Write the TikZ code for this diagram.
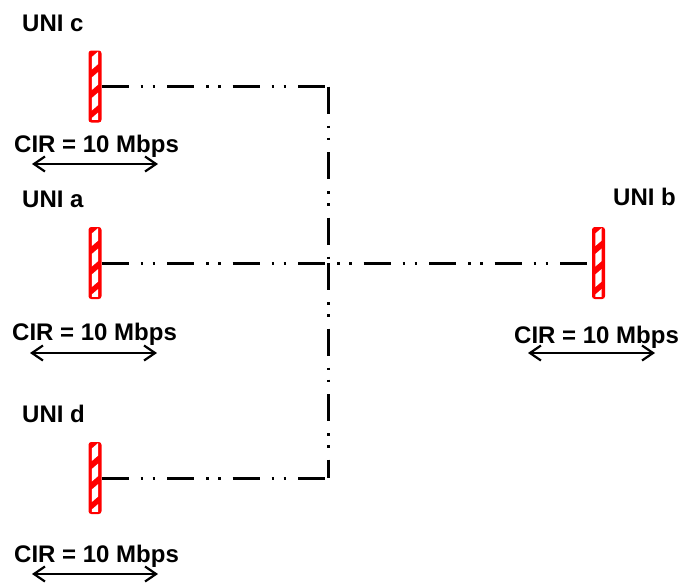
\documentclass[tikz,border=0pt]{standalone}
\usepackage{fontspec}
\setmainfont{Liberation Sans}
\usetikzlibrary{arrows.meta}
\newcommand\unihatch[1]{%
  \begin{scope}[shift={(#1.north)}]
    \clip (-4.5,1) rectangle (4.5,69);
    \foreach \o in {10,30.5,51,71}{
      \fill[white] (-3.2,\o-3.5) -- (3.2,\o-9) -- (3.2,\o+3.5) -- (-3.2,\o+9) -- cycle;
    }
  \end{scope}}
\begin{document}
\begin{tikzpicture}[x=1pt,y=-1pt,
  uni/.style={draw=red, line width=2pt, rounded corners=2pt, fill=red, minimum width=11pt, minimum height=70pt, inner sep=0pt},
  lbl/.style={font=\fontsize{24}{28}\selectfont\bfseries, inner sep=0pt, anchor=base west},
  link/.style={line width=3pt, dash pattern=on 27pt off 12pt on 2.5pt off 9.5pt on 2.5pt off 12pt},
  cir/.style={line width=2pt, {Straight Barb[length=11pt,width=15pt,line width=2.2pt]}-{Straight Barb[length=11pt,width=15pt,line width=2.2pt]}}]
\useasboundingbox (0,0) rectangle (681,582);

% UNI boxes
\node[uni] (c) at (95,86.5) {};
\node[uni] (a) at (95,263) {};
\node[uni] (b) at (598.5,263) {};
\node[uni] (d) at (95,478) {};

% junction points
\coordinate (cc) at (328,86.5);
\coordinate (j) at (328,263);
\coordinate (dc) at (328,478);

% links
\draw[link] (c.east) -- (cc);
\draw[link] (cc) -- (j);
\draw[link] (a.east) -- (b.west);
\draw[link] (d.east) -- (dc);
\draw[link] (j) -- (dc);

% hatch
\unihatch{c}
\unihatch{a}
\unihatch{b}
\unihatch{d}

% labels
\node[lbl] (ucl) at (22,31.5) {UNI c};
\node[lbl] (ual) at (22,207.5) {UNI a};
\node[lbl] (ubl) at (613,205) {UNI b};
\node[lbl] (udl) at (22,422) {UNI d};

\node[lbl] (circ) at (14,152) {CIR = 10 Mbps};
\node[lbl] (cira) at (12,340) {CIR = 10 Mbps};
\node[lbl] (cirb) at (514,343) {CIR = 10 Mbps};
\node[lbl] (cird) at (14,562) {CIR = 10 Mbps};

% CIR arrows
\coordinate (c1) at (32,164);  \coordinate (c2) at (158,164);
\coordinate (a1) at (30,353);  \coordinate (a2) at (157,353);
\coordinate (b1) at (528,353); \coordinate (b2) at (655,353);
\coordinate (d1) at (32,574);  \coordinate (d2) at (158,574);
\draw[cir] (c1) -- (c2);
\draw[cir] (a1) -- (a2);
\draw[cir] (b1) -- (b2);
\draw[cir] (d1) -- (d2);
\end{tikzpicture}
\end{document}
